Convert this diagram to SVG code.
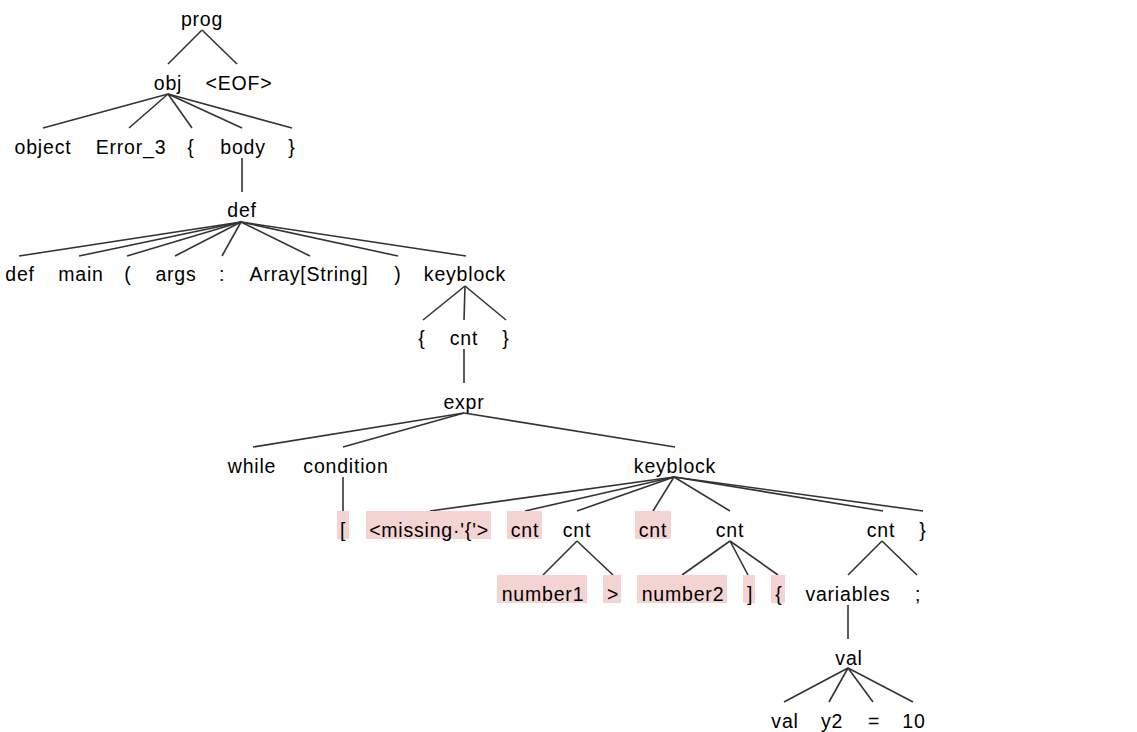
<svg xmlns="http://www.w3.org/2000/svg" width="1137" height="732" viewBox="0 0 1137 732">
<style>
text{font-family:"Liberation Sans",Arial,sans-serif;font-size:19.5px;letter-spacing:0.8px;fill:#000;text-anchor:middle}
.e line{stroke:#333;stroke-width:1.6;fill:none}
.hl{fill:#f4d3d3}
</style>
<rect width="1137" height="732" fill="#fff"/>
<g class="e" id="connectors">
<line x1="202" y1="30" x2="168" y2="64"/><line x1="202" y1="30" x2="237" y2="64"/>
<line x1="168" y1="94" x2="43" y2="128"/><line x1="168" y1="94" x2="129" y2="128"/><line x1="168" y1="94" x2="192" y2="128"/><line x1="168" y1="94" x2="242" y2="128"/><line x1="168" y1="94" x2="292" y2="128"/>
<line x1="242" y1="158" x2="242" y2="192"/>
<line x1="241" y1="222" x2="19" y2="256"/><line x1="241" y1="222" x2="79" y2="256"/><line x1="241" y1="222" x2="127" y2="256"/><line x1="241" y1="222" x2="175" y2="256"/><line x1="241" y1="222" x2="222" y2="256"/><line x1="241" y1="222" x2="310" y2="256"/><line x1="241" y1="222" x2="398" y2="256"/><line x1="241" y1="222" x2="466" y2="256"/>
<line x1="465" y1="286" x2="423" y2="320"/><line x1="465" y1="286" x2="464" y2="320"/><line x1="465" y1="286" x2="506" y2="320"/>
<line x1="464" y1="349" x2="464" y2="383"/>
<line x1="464" y1="413" x2="253" y2="447"/><line x1="464" y1="413" x2="343" y2="447"/><line x1="464" y1="413" x2="675" y2="447"/>
<line x1="343" y1="477" x2="343" y2="511"/>
<line x1="674" y1="477" x2="430" y2="511"/><line x1="674" y1="477" x2="525" y2="511"/><line x1="674" y1="477" x2="577" y2="511"/><line x1="674" y1="477" x2="653" y2="511"/><line x1="674" y1="477" x2="730" y2="511"/><line x1="674" y1="477" x2="883" y2="511"/><line x1="674" y1="477" x2="923" y2="511"/>
<line x1="577" y1="541" x2="543" y2="575"/><line x1="577" y1="541" x2="613" y2="575"/>
<line x1="730" y1="541" x2="682" y2="575"/><line x1="730" y1="541" x2="748" y2="575"/><line x1="730" y1="541" x2="778" y2="575"/>
<line x1="882" y1="541" x2="848" y2="575"/><line x1="882" y1="541" x2="917" y2="575"/>
<line x1="848" y1="605" x2="848" y2="639"/>
<line x1="848" y1="668" x2="784" y2="702"/><line x1="848" y1="668" x2="829" y2="702"/><line x1="848" y1="668" x2="873" y2="702"/><line x1="848" y1="668" x2="913" y2="702"/>
</g>
<g id="n-prog"><text x="202" y="26">prog</text></g>
<g id="n-obj"><text x="168" y="90">obj</text></g>
<g id="n-eof"><text x="239" y="90">&lt;EOF&gt;</text></g>
<g id="n-object"><text x="43" y="154">object</text></g>
<g id="n-error3"><text x="131" y="154">Error_3</text></g>
<g id="n-lbrace1"><text x="191" y="154">{</text></g>
<g id="n-body"><text x="243" y="154">body</text></g>
<g id="n-rbrace1"><text x="292" y="154">}</text></g>
<g id="n-def"><text x="242" y="217">def</text></g>
<g id="n-defkw"><text x="20" y="281">def</text></g>
<g id="n-main"><text x="81" y="281">main</text></g>
<g id="n-lparen"><text x="128" y="281">(</text></g>
<g id="n-args"><text x="176" y="281">args</text></g>
<g id="n-colon"><text x="222" y="281">:</text></g>
<g id="n-array"><text x="309" y="281">Array[String]</text></g>
<g id="n-rparen"><text x="398" y="281">)</text></g>
<g id="n-keyblock1"><text x="465" y="281">keyblock</text></g>
<g id="n-lbrace2"><text x="422" y="345">{</text></g>
<g id="n-cnt1"><text x="464" y="345">cnt</text></g>
<g id="n-rbrace2"><text x="506" y="345">}</text></g>
<g id="n-expr"><text x="464" y="409">expr</text></g>
<g id="n-while"><text x="252" y="473">while</text></g>
<g id="n-condition"><text x="346" y="473">condition</text></g>
<g id="n-keyblock2"><text x="675" y="473">keyblock</text></g>
<g id="n-lbracket"><rect class="hl" x="337" y="511" width="12" height="28"/><text x="343" y="537">[</text></g>
<g id="n-missing"><rect class="hl" x="366" y="511" width="125" height="28"/><text x="429" y="537">&lt;missing·'{'&gt;</text></g>
<g id="n-cnt2"><rect class="hl" x="507" y="511" width="35" height="28"/><text x="525" y="537">cnt</text></g>
<g id="n-cnt3"><text x="577" y="537">cnt</text></g>
<g id="n-cnt4"><rect class="hl" x="635" y="511" width="36" height="28"/><text x="653" y="537">cnt</text></g>
<g id="n-cnt5"><text x="730" y="537">cnt</text></g>
<g id="n-cnt6"><text x="881" y="537">cnt</text></g>
<g id="n-rbrace3"><text x="923" y="537">}</text></g>
<g id="n-number1"><rect class="hl" x="497" y="575" width="90" height="28"/><text x="543" y="601">number1</text></g>
<g id="n-gt"><rect class="hl" x="603" y="575" width="18" height="28"/><text x="613" y="601">&gt;</text></g>
<g id="n-number2"><rect class="hl" x="637" y="575" width="90" height="28"/><text x="683" y="601">number2</text></g>
<g id="n-rbracket"><rect class="hl" x="743" y="575" width="12" height="28"/><text x="750" y="601">]</text></g>
<g id="n-lbrace3"><rect class="hl" x="771" y="575" width="14" height="28"/><text x="779" y="601">{</text></g>
<g id="n-variables"><text x="848" y="601">variables</text></g>
<g id="n-semi"><text x="918" y="601">;</text></g>
<g id="n-val"><text x="849" y="665">val</text></g>
<g id="n-valkw"><text x="785" y="728">val</text></g>
<g id="n-y2"><text x="832" y="728">y2</text></g>
<g id="n-eq"><text x="874" y="728">=</text></g>
<g id="n-10"><text x="914" y="728">10</text></g>
</svg>
